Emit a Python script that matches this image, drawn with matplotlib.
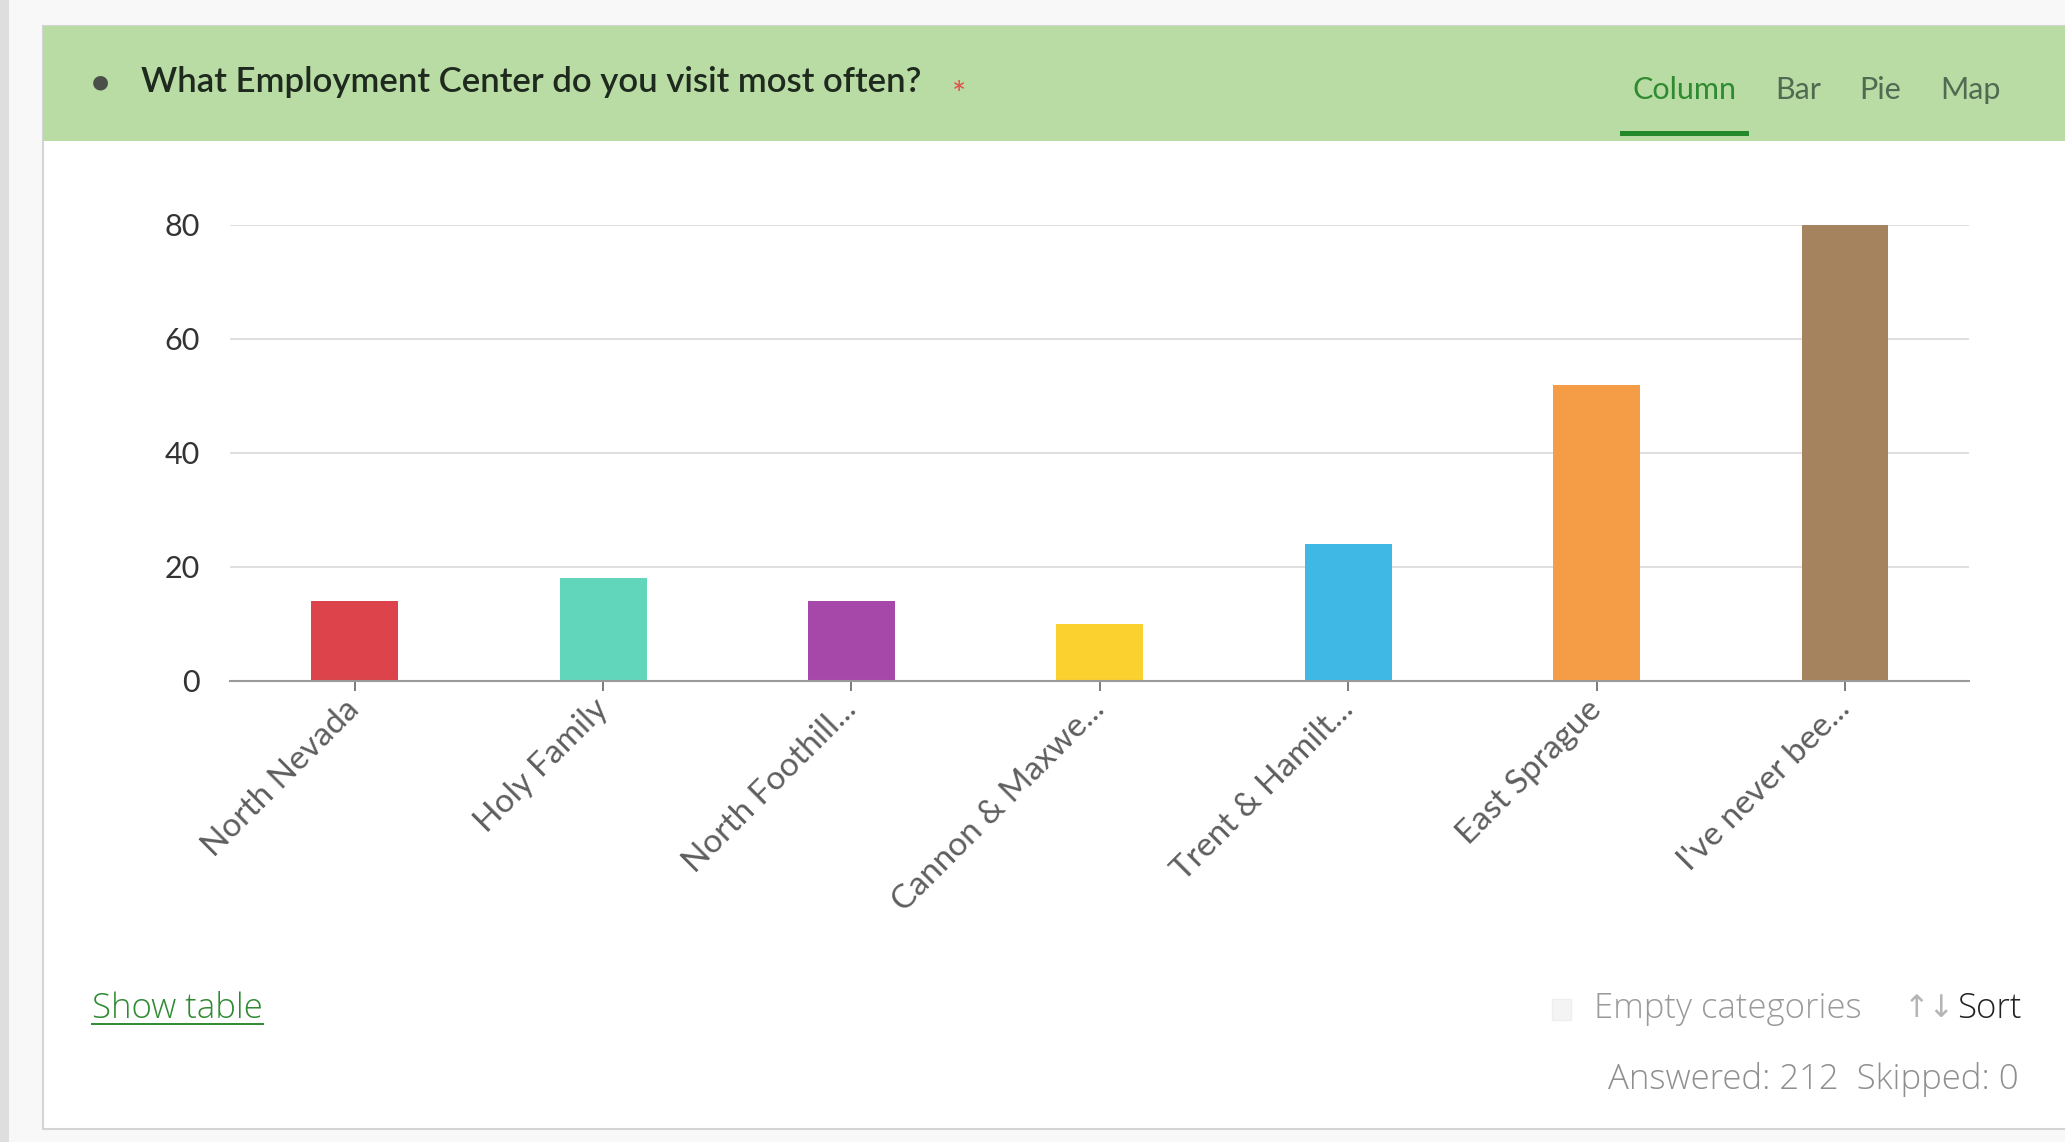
import matplotlib
matplotlib.use("Agg")
import matplotlib.pyplot as plt
from matplotlib.patches import Rectangle
import numpy as np

# ── Dados ────────────────────────────────────────────────────────────────────
categories = ["North Nevada", "Holy Family", "North Foothill...", "Cannon & Maxwe...",
              "Trent & Hamilt...", "East Sprague", "I've never bee..."]
counts = [14, 18, 14, 10, 24, 52, 80]
colors = ["#dc434a", "#62d6bb", "#a648aa", "#fbd12f", "#3fb8e6", "#f59d46", "#a5835f"]
y_ticks = [0, 20, 40, 60, 80]
tabs = ["Column", "Bar", "Pie", "Map"]
title = "What Employment Center do you visit most often?"
answered, skipped = 212, 0

FONT = "Lato"
UI_FONT = "Open Sans"

fig = plt.figure(figsize=(20.65, 11.42), dpi=100)
fig.patch.set_facecolor("#f8f8f8")

# ── Cartão e cabeçalho ───────────────────────────────────────────────────────
fig.patches.append(Rectangle((0, 0), 0.0045, 1, transform=fig.transFigure,
                             facecolor="#dedede", edgecolor="none", zorder=-3))
fig.patches.append(Rectangle((0.0208, 0.0114), 1.0, 0.9656, transform=fig.transFigure,
                             facecolor="white", edgecolor="#d4d4d4", linewidth=1.5, zorder=-2))
fig.patches.append(Rectangle((0.0208, 0.8765), 1.0, 0.1005, transform=fig.transFigure,
                             facecolor="#b9dca4", edgecolor="none", zorder=-1))

fig.text(0.0484, 0.928, "●", fontsize=14, color="#4a4f4a", ha="center", va="center", family="DejaVu Sans")
fig.text(0.0683, 0.928, title, fontsize=25, color="#1e2a1e", ha="left", va="center",
         family=FONT, fontweight="semibold")
fig.text(0.4645, 0.916, "*", fontsize=24, color="#e0504a", ha="center", va="center", family=FONT)

tab_x = [0.8157, 0.8706, 0.9107, 0.954]
for i, (t, x) in enumerate(zip(tabs, tab_x)):
    fig.text(x, 0.921, t, fontsize=22, ha="center", va="center", family=FONT,
             color="#2f8a32" if i == 0 else "#506b52")
fig.patches.append(Rectangle((0.7845, 0.8805), 0.0625, 0.0045, transform=fig.transFigure,
                             facecolor="#23882a", edgecolor="none", zorder=2))

# ── Gráfico de colunas ───────────────────────────────────────────────────────
ax = fig.add_axes([0.1116, 0.4037, 0.842, 0.3993])
ax.set_zorder(5)
x = np.arange(len(categories))
ax.bar(x, counts, width=0.35, color=colors, zorder=3)

ax.set_xlim(-0.5, len(categories) - 0.5)
ax.set_ylim(0, 80)
ax.set_yticks(y_ticks)
ax.set_yticklabels([str(v) for v in y_ticks], fontsize=22, color="#333333", family=FONT)
ax.tick_params(axis="y", length=0, pad=22)
ax.grid(axis="y", color="#dcdcdc", linewidth=1.3, zorder=0)
ax.set_axisbelow(True)
for s in ["top", "right", "left"]:
    ax.spines[s].set_visible(False)
ax.spines["bottom"].set_color("#9a9a9a")
ax.spines["bottom"].set_linewidth(1.5)
ax.spines["bottom"].set_zorder(4)

ax.set_xticks(x)
ax.set_xticklabels(categories, rotation=45, ha="right", va="center", rotation_mode="anchor",
                   fontsize=24, color="#5e5e5e", family=FONT)
ax.tick_params(axis="x", length=7, width=1.2, color="#666666", pad=10)
ax.set_facecolor("white")

# ── Rodapé ───────────────────────────────────────────────────────────────────
st = fig.text(0.0447, 0.1165, "Show table", fontsize=25, color="#2f8a32", ha="left",
              va="center", family=UI_FONT, fontweight="light")

fig.patches.append(Rectangle((0.7515, 0.107), 0.0095, 0.018, transform=fig.transFigure,
                             facecolor="#f4f4f4", edgecolor="#efefef", zorder=2))
fig.text(0.772, 0.1165, "Empty categories", fontsize=25, color="#9a9a9a", ha="left",
         va="center", family=UI_FONT, fontweight="light")
fig.text(0.9345, 0.1165, "↑↓", fontsize=22, color="#b5b5b5", ha="center", va="center",
         family="DejaVu Sans")
fig.text(0.979, 0.1165, "Sort", fontsize=25, color="#222222", ha="right", va="center",
         family=UI_FONT, fontweight="light")
fig.text(0.9777, 0.055, f"Answered: {answered}  Skipped: {skipped}", fontsize=25,
         color="#8f8f8f", ha="right", va="center", family=UI_FONT, fontweight="light")

# sublinhado do "Show table" na largura do texto
fig.canvas.draw()
bb = st.get_window_extent().transformed(fig.transFigure.inverted())
fig.lines.append(plt.Line2D([bb.x0, bb.x1], [bb.y0 + 0.002, bb.y0 + 0.002],
                            transform=fig.transFigure, color="#2f8a32", linewidth=1.4))

plt.savefig("out.png", dpi=100, facecolor=fig.get_facecolor())
plt.close()
